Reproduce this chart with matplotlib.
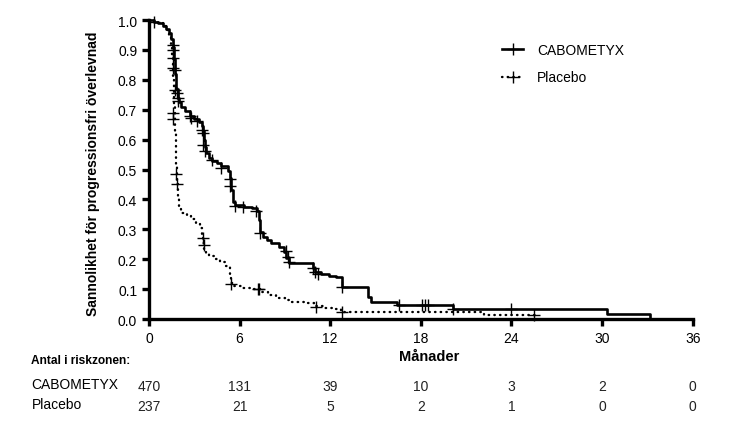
import matplotlib
matplotlib.use("Agg")
import matplotlib.pyplot as plt
import matplotlib.transforms as mtransforms
from matplotlib.lines import Line2D

plt.rcParams["font.family"] = ["Liberation Sans", "DejaVu Sans"]

# Kaplan-Meier steps (months, survival)
cabo_t = [0, 0.3, 0.6, 0.9, 1.1, 1.3, 1.45, 1.6, 1.68, 1.75, 1.82, 1.9, 2.0, 2.15,
          2.4, 2.7, 3.0, 3.3, 3.5, 3.6, 3.65, 3.72, 3.8, 3.95, 4.2, 4.5, 4.8, 5.2,
          5.35, 5.45, 5.55, 5.7, 6.3, 6.8, 7.15, 7.25, 7.35, 7.55, 7.8, 8.1, 8.6,
          8.97, 9.1, 9.25, 10.85, 11.0, 11.4, 11.9, 12.4, 12.8, 14.5, 14.7, 16.4,
          20.1, 30.3, 33.2]
cabo_s = [1.0, 0.995, 0.99, 0.98, 0.97, 0.955, 0.935, 0.91, 0.87, 0.82, 0.77, 0.74,
          0.725, 0.71, 0.695, 0.68, 0.67, 0.66, 0.645, 0.63, 0.6, 0.575, 0.555,
          0.54, 0.53, 0.522, 0.512, 0.495, 0.47, 0.43, 0.39, 0.38, 0.376, 0.37,
          0.36, 0.33, 0.29, 0.275, 0.265, 0.255, 0.24, 0.225, 0.205, 0.188, 0.17,
          0.157, 0.15, 0.144, 0.139, 0.108, 0.075, 0.057, 0.046, 0.032, 0.016, 0.0]

plac_t = [0, 0.3, 0.6, 0.9, 1.1, 1.3, 1.45, 1.55, 1.62, 1.68, 1.74, 1.8, 1.86,
          1.92, 2.0, 2.15, 2.5, 2.8, 3.1, 3.4, 3.5, 3.58, 3.65, 3.75, 3.95, 4.3,
          4.7, 5.1, 5.35, 5.45, 5.6, 6.2, 6.8, 7.4, 7.9, 8.4, 9.0, 9.5, 10.3,
          10.9, 11.5, 12.1, 12.7, 22.2, 25.7]
plac_s = [1.0, 0.995, 0.99, 0.98, 0.965, 0.945, 0.92, 0.88, 0.8, 0.72, 0.62, 0.52,
          0.45, 0.4, 0.37, 0.355, 0.345, 0.333, 0.32, 0.305, 0.28, 0.255, 0.235,
          0.222, 0.21, 0.2, 0.19, 0.178, 0.15, 0.12, 0.112, 0.105, 0.1, 0.09,
          0.08, 0.07, 0.063, 0.056, 0.053, 0.045, 0.037, 0.033, 0.022, 0.013, 0.013]

# censoring marks
cabo_ct = [0.3, 1.6, 1.6, 1.6, 1.62, 1.72, 1.74, 1.83, 1.9, 1.94, 2.7, 2.8, 3.15,
           3.48, 3.59, 3.59, 3.7, 4.14, 4.8, 5.35, 5.37, 5.68, 6.23, 7.11, 7.33,
           9.1, 9.2, 9.3, 10.85, 10.96, 11.18, 12.79, 16.53, 18.08, 18.3, 18.45,
           20.1, 24.0]
cabo_cs = [0.995, 0.917, 0.9, 0.872, 0.839, 0.833, 0.767, 0.756, 0.74, 0.728, 0.678,
           0.672, 0.661, 0.633, 0.622, 0.583, 0.561, 0.533, 0.506, 0.467, 0.444,
           0.378, 0.376, 0.361, 0.289, 0.228, 0.206, 0.19, 0.172, 0.157, 0.15,
           0.108, 0.046, 0.046, 0.046, 0.046, 0.032, 0.032]
plac_ct = [1.6, 1.6, 1.8, 1.83, 3.6, 3.62, 5.45, 7.2, 7.3, 11.06, 12.8, 25.5]
plac_cs = [0.69, 0.67, 0.485, 0.45, 0.272, 0.247, 0.117, 0.1, 0.1, 0.039, 0.022, 0.013]

groups = ["CABOMETYX", "Placebo"]
risk_times = [0, 6, 12, 18, 24, 30, 36]
risk_cabo = [470, 131, 39, 10, 3, 2, 0]
risk_plac = [237, 21, 5, 2, 1, 0, 0]

fig = plt.figure(figsize=(7.48, 4.31), dpi=100)
ax = fig.add_axes([0.1992, 0.2575, 0.7269, 0.6937])

dots = (0, (0.2, 2.2))
ax.step(cabo_t, cabo_s, where="post", color="black", lw=1.9, clip_on=False)
ax.step(plac_t, plac_s, where="post", color="black", lw=1.7, linestyle=dots,
        dash_capstyle="round", clip_on=False)
ax.plot(cabo_ct, cabo_cs, "+", color="black", ms=8, mew=1.0, clip_on=False)
ax.plot(plac_ct, plac_cs, "+", color="black", ms=8, mew=1.0, clip_on=False)

ax.set_xlim(0, 36)
ax.set_ylim(0, 1.0)
ax.set_xticks(risk_times)
ax.set_yticks([i / 10 for i in range(11)])
ax.set_yticklabels(["%.1f" % (i / 10) for i in range(11)])
for s in ["top", "right"]:
    ax.spines[s].set_visible(False)
for s in ["left", "bottom"]:
    ax.spines[s].set_linewidth(2.4)
ax.tick_params(width=2.4, length=5, labelsize=10, colors="black")

ax.set_ylabel("Sannolikhet för progressionsfri överlevnad", fontsize=10,
              fontweight="bold")
ax.yaxis.set_label_coords(-0.09, 0.49)
ax.set_xlabel("Månader", fontsize=10.5, fontweight="bold")
ax.xaxis.set_label_coords(0.515, -0.1)

# legend
h1 = Line2D([], [], color="black", lw=1.9, marker="+", ms=8, mew=1.0)
h2 = Line2D([], [], color="black", lw=1.7, linestyle=dots, dash_capstyle="round",
            marker="+", ms=8, mew=1.0)
fig.legend([h1, h2], groups, loc="upper left", bbox_to_anchor=(0.671, 0.899),
           frameon=False, fontsize=10, handlelength=1.55, handletextpad=0.97,
           labelspacing=1.0, borderpad=0, borderaxespad=0, numpoints=1)

# number at risk table
trans = mtransforms.blended_transform_factory(ax.transData, ax.transAxes)
ftrans = mtransforms.blended_transform_factory(fig.transFigure, ax.transAxes)
ax.text(0.042, -0.137, "Antal i riskzonen:", transform=ftrans, fontsize=8.6,
        fontweight="bold", va="center", ha="left")
rows = [(-0.218, risk_cabo), (-0.285, risk_plac)]
for name, (yy, vals) in zip(groups, rows):
    ax.text(0.042, yy, name, transform=ftrans, fontsize=10, va="center", ha="left")
    for t, v in zip(risk_times, vals):
        ax.text(t, yy - 0.005, str(v), transform=trans, fontsize=10,
                va="center", ha="center", color="#222222")

fig.savefig("out.png", dpi=100)
